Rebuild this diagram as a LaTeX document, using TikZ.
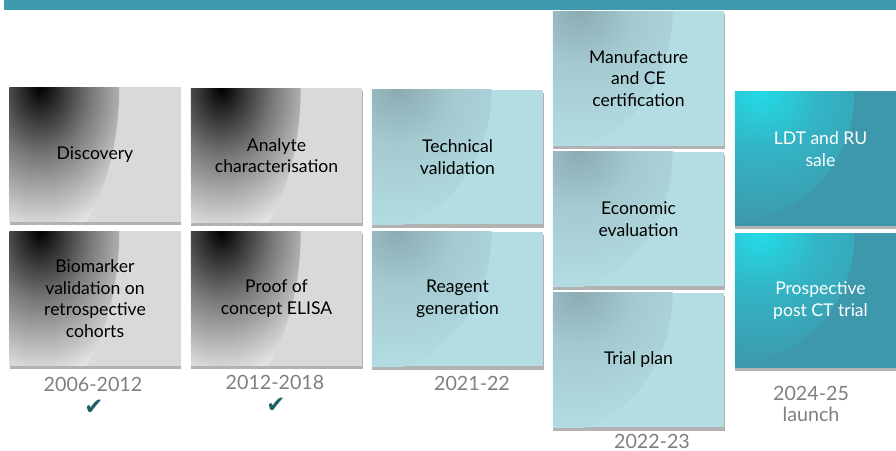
\documentclass[tikz,border=0pt]{standalone}
\usepackage{fontspec}
\setmainfont{Lato}
\newfontfamily\symbfont{DejaVu Sans}
\usetikzlibrary{shadows}

\definecolor{bar_teal}{HTML}{3E9BAE}
\definecolor{tab_grey}{HTML}{D9D9D9}
\definecolor{tab_blue}{HTML}{B3DCE3}
\definecolor{tab_teal}{HTML}{3E98AC}
\definecolor{tab_cyan}{HTML}{24DAE6}
\definecolor{year_grey}{HTML}{7F7F7F}
\definecolor{tick_teal}{HTML}{1E5F66}

\pgfdeclareradialshading{greycorner}{\pgfpoint{0bp}{0bp}}{%
    color(0bp)=(black); color(4bp)=(black!75!tab_grey); color(9bp)=(black!45!tab_grey);
    color(14bp)=(black!20!tab_grey); color(19bp)=(white!25!tab_grey); color(22bp)=(white!15!tab_grey);
    color(25bp)=(tab_grey); color(50bp)=(tab_grey)}
\pgfdeclareradialshading{bluecorner}{\pgfpoint{0bp}{0bp}}{%
    color(0bp)=(black!22!tab_blue); color(10bp)=(black!8!tab_blue);
    color(25bp)=(tab_blue); color(50bp)=(tab_blue)}
\pgfdeclareradialshading{tealcorner}{\pgfpoint{0bp}{0bp}}{%
    color(0bp)=(tab_cyan); color(10bp)=(tab_cyan!45!tab_teal);
    color(25bp)=(tab_teal); color(50bp)=(tab_teal)}

\begin{document}
\begin{tikzpicture}[x=0.02cm, y=-0.02cm,
    stage/.style={minimum width=3.43cm, minimum height=2.7cm, align=center, inner sep=2pt,
        font=\fontsize{10}{12.2}\selectfont,
        drop shadow={shadow xshift=0.3pt, shadow yshift=-1.8pt, fill=black, opacity=0.3}},
    grey_stage/.style={stage, fill=tab_grey, text=black,
        path picture={\shade[shading=greycorner] (path picture bounding box.north west) ellipse (2.2cm and 3.8cm);}},
    blue_stage/.style={stage, fill=tab_blue, text=black,
        path picture={\shade[shading=bluecorner] (path picture bounding box.north west) ellipse (2.4cm and 2.8cm);}},
    teal_stage/.style={stage, fill=tab_teal, text=white,
        path picture={\shade[shading=tealcorner] (path picture bounding box.north west) ellipse (2.4cm and 2.6cm);}},
    year/.style={text=year_grey, align=center, font=\fontsize{11.2}{12}\selectfont},
    tick/.style={text=tick_teal, font=\symbfont\fontsize{13}{15}\selectfont}]
    %\draw[help lines, step=50] (0,0) grid (896,450);
    \clip (0,0) rectangle (896,450);

    \fill[bar_teal] (4,0) rectangle (896,9.5);

    % 2006-2012
    \node[grey_stage] (discovery) at (95,154.5) {Discovery};
    \node[grey_stage] (biomarker) at (95,298.5) {Biomarker\\validation on\\retrospective\\cohorts};
    \node[year] (year1) at (93,384) {2006-2012};
    \node[tick] (tick1) at (94,407) {✔};

    % 2012-2018
    \node[grey_stage] (analyte) at (276.5,155.5) {Analyte\\characterisation};
    \node[grey_stage] (elisa) at (276.5,298.5) {Proof of\\concept ELISA};
    \node[year] (year2) at (275,382) {2012-2018};
    \node[tick] (tick2) at (276,405) {✔};

    % 2021-22
    \node[blue_stage] (technical) at (457.5,157) {Technical\\validation};
    \node[blue_stage] (reagent) at (457.5,299) {Reagent\\generation};
    \node[year] (year3) at (472,383) {2021-22};

    % 2022-23
    \node[blue_stage] (manufacture) at (638.5,78.5) {Manufacture\\and CE\\certification};
    \node[blue_stage] (economic) at (638.5,219) {Economic\\evaluation};
    \node[blue_stage] (trial) at (638.5,360) {Trial plan};
    \node[year] (year4) at (652,441) {2022-23};

    % 2024-25
    \node[teal_stage, text depth=11pt] (sale) at (820.5,158.5) {LDT and RU\\sale};
    \node[teal_stage] (postct) at (820.5,300.5) {Prospective\\post CT trial};
    \node[year] (year5) at (811,404) {2024-25\\launch};

\end{tikzpicture}
\end{document}
